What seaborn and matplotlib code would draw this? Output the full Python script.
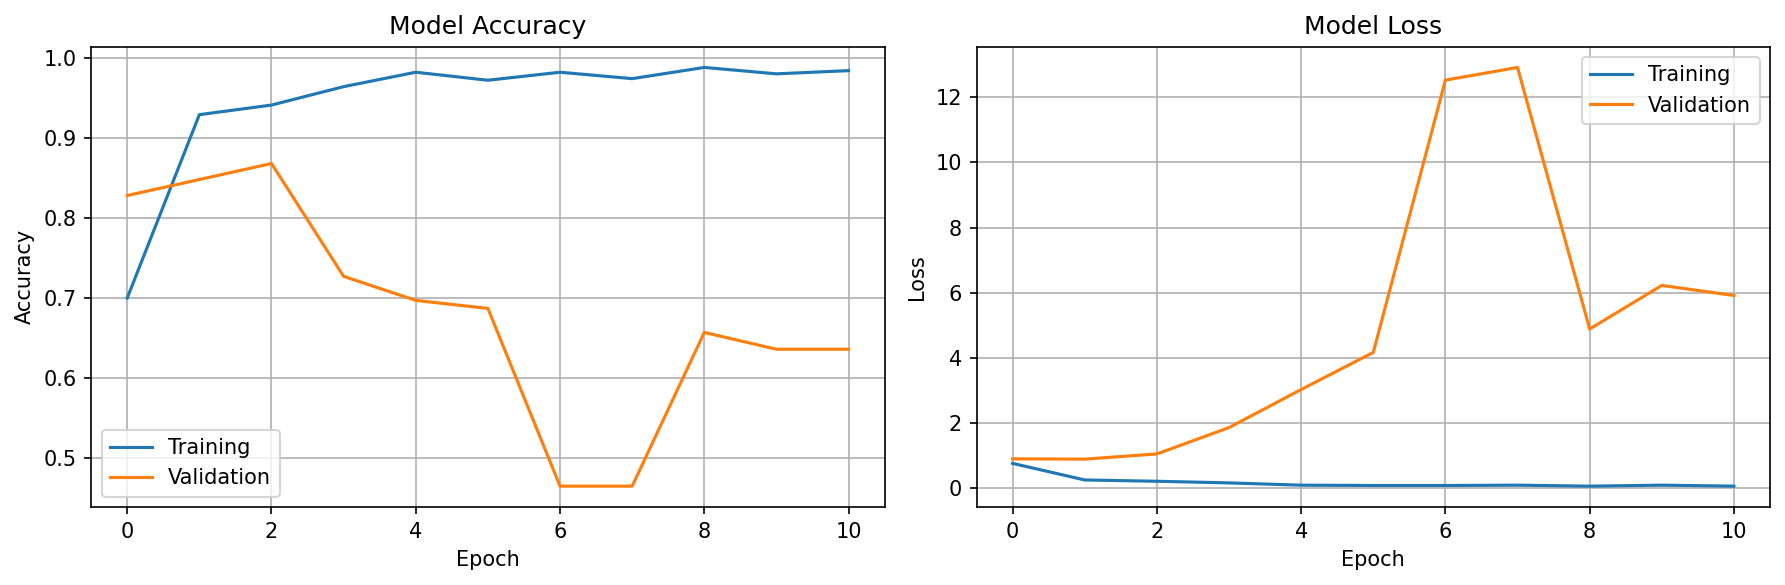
import pandas as pd
import matplotlib
matplotlib.use("Agg")
import matplotlib.pyplot as plt
import seaborn as sns

epochs = list(range(11))

train_acc = [0.700, 0.929, 0.941, 0.964, 0.982, 0.972, 0.982, 0.974, 0.988, 0.980, 0.984]
val_acc = [0.828, 0.848, 0.868, 0.727, 0.697, 0.687, 0.465, 0.465, 0.657, 0.636, 0.636]

train_loss = [0.75, 0.24, 0.20, 0.15, 0.08, 0.07, 0.07, 0.08, 0.05, 0.08, 0.05]
val_loss = [0.89, 0.88, 1.04, 1.85, 3.02, 4.16, 12.53, 12.92, 4.88, 6.22, 5.91]

series_names = ["Training", "Validation"]
colores = ["#1f77b4", "#ff7f0e"]

# tablas largas para seaborn
df_acc = pd.DataFrame({
    "Epoch": epochs * 2,
    "valor": train_acc + val_acc,
    "serie": [series_names[0]] * 11 + [series_names[1]] * 11,
})
df_loss = pd.DataFrame({
    "Epoch": epochs * 2,
    "valor": train_loss + val_loss,
    "serie": [series_names[0]] * 11 + [series_names[1]] * 11,
})

plt.rcParams["font.family"] = ["DejaVu Sans"]
fig, axes = plt.subplots(1, 2, figsize=(12, 4), dpi=150)

sns.lineplot(data=df_acc, x="Epoch", y="valor", hue="serie", palette=colores,
             ax=axes[0], linewidth=1.5)
axes[0].set_title("Model Accuracy")
axes[0].set_xlabel("Epoch")
axes[0].set_ylabel("Accuracy")
axes[0].grid(True)
axes[0].legend(loc="lower left")

sns.lineplot(data=df_loss, x="Epoch", y="valor", hue="serie", palette=colores,
             ax=axes[1], linewidth=1.5)
axes[1].set_title("Model Loss")
axes[1].set_xlabel("Epoch")
axes[1].set_ylabel("Loss")
axes[1].grid(True)
axes[1].legend(loc="upper right")

plt.tight_layout()
plt.savefig("out.png", dpi=150, bbox_inches="tight")
